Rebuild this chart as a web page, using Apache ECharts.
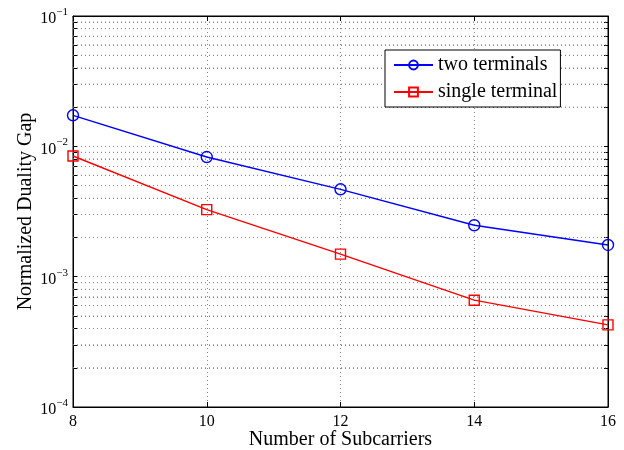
<!DOCTYPE html>
<html>
<head>
<meta charset="utf-8">
<script src="https://cdn.jsdelivr.net/npm/echarts@6/dist/echarts.min.js"></script>
<style>html,body{margin:0;padding:0;background:#fff}#c{width:624px;height:450px}</style>
</head>
<body>
<div id="c"></div>
<script>
var subcarriers = [8, 10, 12, 14, 16];
var twoTerminals = [0.0173, 0.00828, 0.00468, 0.00248, 0.00175];
var singleTerminal = [0.00843, 0.00327, 0.00149, 0.00066, 0.000427];
var xTicks = [8, 10, 12, 14, 16];
var yDecades = [1e-4, 1e-3, 1e-2, 1e-1];
var minorMultipliers = [2, 3, 4, 5, 6, 7, 8, 9];

var FONT = '"Liberation Serif", "Times New Roman", serif';
var minorValues = [];
yDecades.slice(0, 3).forEach(function (d) {
  minorMultipliers.forEach(function (m) { minorValues.push(+(d * m).toPrecision(3)); });
});
var allYTicks = yDecades.concat(minorValues).sort(function (a, b) { return a - b; });

function pairs(ys) { return subcarriers.map(function (x, i) { return [x, ys[i]]; }); }

var DOT = {color: '#8a8a8a', type: [1, 3], width: 1};
var minorSeries = minorValues.map(function (v) {
  return {
    type: 'line', silent: true, symbol: 'none', animation: false,
    data: [[xTicks[0], v], [xTicks[xTicks.length - 1], v]],
    lineStyle: DOT, z: 1, tooltip: {show: false}
  };
});

var chart = echarts.init(document.getElementById('c'), null, {renderer: 'canvas'});
chart.setOption({
  animation: false,
  backgroundColor: '#fff',
  grid: {left: 73, right: 16, top: 16, bottom: 43, show: true, borderColor: '#000', borderWidth: 1,
         containLabel: false, outerBoundsMode: 'none'},
  legend: {
    orient: 'vertical', left: 385, top: 50,
    backgroundColor: '#fff', borderColor: '#000', borderWidth: 1,
    padding: [5, 3, 5, 8], itemGap: 7, itemWidth: 39, itemHeight: 11,
    textStyle: {fontFamily: FONT, fontSize: 20, color: '#000'},
    data: ['two terminals', 'single terminal']
  },
  xAxis: [{
    type: 'value', min: 8, max: 16, interval: 2,
    name: 'Number of Subcarriers', nameLocation: 'middle', nameGap: 23, nameMoveOverlap: false,
    nameTextStyle: {fontFamily: FONT, fontSize: 20, color: '#000'},
    axisLine: {show: true, lineStyle: {color: '#000', width: 1}},
    axisTick: {show: true, inside: true, length: 5, lineStyle: {color: '#000'}},
    axisLabel: {fontFamily: FONT, fontSize: 16, color: '#000', margin: 7},
    splitLine: {show: true, lineStyle: DOT}
  }, {
    type: 'value', position: 'top', min: 8, max: 16, interval: 2,
    axisLine: {show: true, lineStyle: {color: '#000'}},
    axisTick: {show: true, inside: true, length: 5, lineStyle: {color: '#000'}},
    axisLabel: {show: false}, splitLine: {show: false}
  }],
  yAxis: [{
    type: 'log', logBase: 10, min: 1e-4, max: 1e-1,
    name: 'Normalized Duality Gap', nameLocation: 'middle', nameGap: 37, nameMoveOverlap: false,
    nameTextStyle: {fontFamily: FONT, fontSize: 20, color: '#000'},
    axisLine: {show: true, lineStyle: {color: '#000', width: 1}},
    axisTick: {show: true, inside: true, length: 4, lineStyle: {color: '#000'}, customValues: allYTicks},
    axisLabel: {
      fontFamily: FONT, color: '#000', margin: 5, customValues: yDecades,
      formatter: function (v) {
        var e = Math.round(Math.log10(v));
        return '{b|10}{s|' + (e < 0 ? '\u2212' + (-e) : e) + '}';
      },
      rich: {
        b: {fontFamily: FONT, fontSize: 16, color: '#000', padding: [6, 0, 0, 0]},
        s: {fontFamily: FONT, fontSize: 11, color: '#000', padding: [0, 0, 8, 0]}
      }
    },
    splitLine: {show: true, lineStyle: DOT}
  }, {
    type: 'log', logBase: 10, min: 1e-4, max: 1e-1, position: 'right',
    axisLine: {show: true, lineStyle: {color: '#000'}},
    axisTick: {show: true, inside: true, length: 4, lineStyle: {color: '#000'}, customValues: allYTicks},
    axisLabel: {show: false}, splitLine: {show: false}
  }],
  series: minorSeries.concat([{
    name: 'two terminals', type: 'line', data: pairs(twoTerminals),
    symbol: 'circle', symbolSize: 11, showAllSymbol: true,
    itemStyle: {color: 'rgba(255,255,255,0)', borderColor: '#0000ff', borderWidth: 1.4},
    lineStyle: {color: '#0000ff', width: 1.4},
    z: 5
  }, {
    name: 'single terminal', type: 'line', data: pairs(singleTerminal),
    symbol: 'rect', symbolSize: 10, showAllSymbol: true,
    itemStyle: {color: 'rgba(255,255,255,0)', borderColor: '#ff0000', borderWidth: 1.4},
    lineStyle: {color: '#ff0000', width: 1.4},
    z: 5
  }])
});
</script>
</body>
</html>
